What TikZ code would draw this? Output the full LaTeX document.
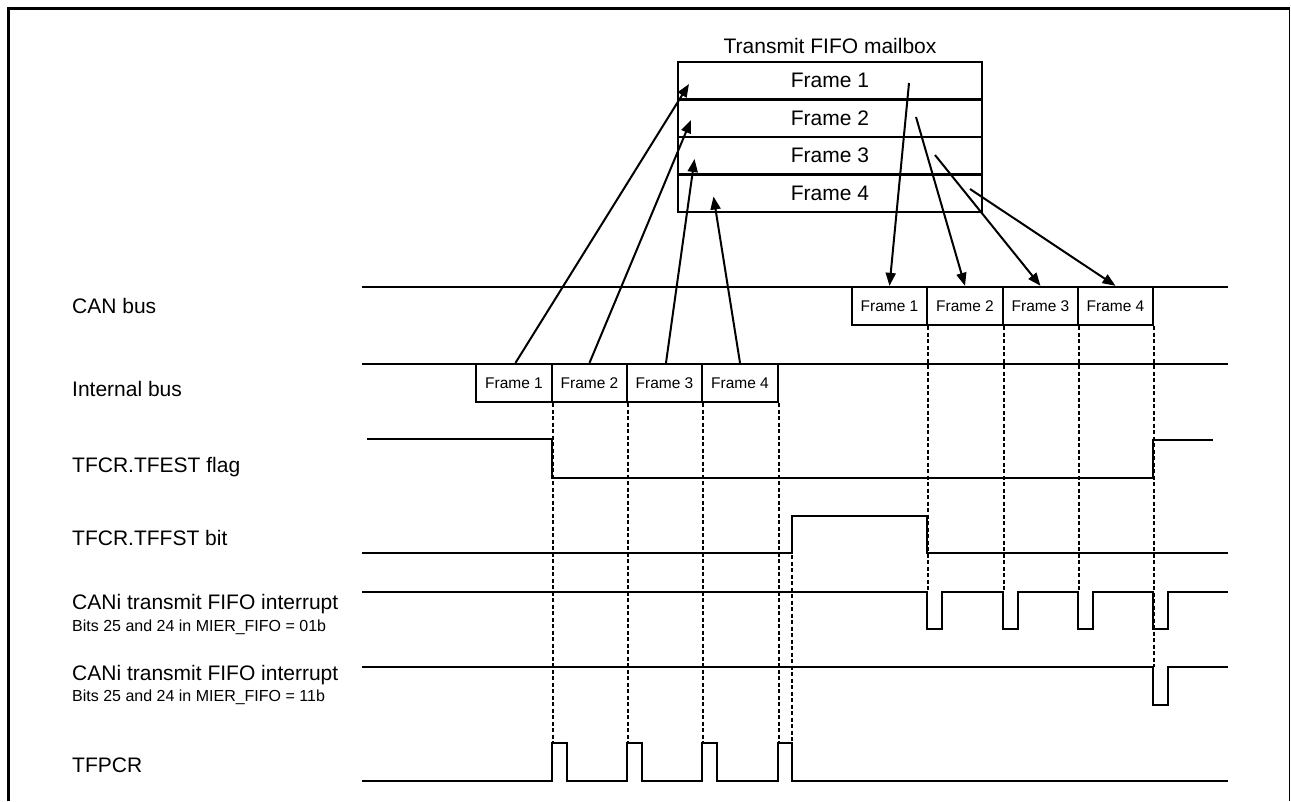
\documentclass[tikz,border=0pt]{standalone}
\usepackage{fontspec}
\setmainfont{Liberation Sans}
\usetikzlibrary{arrows.meta}
\tikzset{
  sig/.style={line width=2.3pt, line join=miter},
  dsh/.style={line width=1.4pt, dash pattern=on 4pt off 2.5pt},
  mbx/.style={draw, line width=2.3pt, minimum width=303.4pt, minimum height=37.5pt, inner sep=0pt, font=\fontsize{21}{25}\selectfont},
  fbx/.style={draw, line width=2.3pt, minimum height=38pt, inner sep=0pt, font=\fontsize{15.5}{18}\selectfont},
  arr/.style={line width=2pt, -{Triangle[length=13pt,width=10pt]}},
  lbl/.style={anchor=base west, inner sep=0pt, font=\fontsize{21}{25}\selectfont},
  sml/.style={anchor=base west, inner sep=0pt, font=\fontsize{16}{19}\selectfont},
}
\begin{document}
\begin{tikzpicture}[x=1pt,y=-1pt]
\useasboundingbox (0,0) rectangle (1291,801);
% border
\draw[line width=3pt] (8.3,801) -- (8.3,8.3) -- (1290,8.3);
\draw[line width=1.2pt] (1289.5,8.3) -- (1289.5,801);

% mailbox
\node[anchor=base, inner sep=0pt, font=\fontsize{21}{25}\selectfont] (title) at (830,53) {Transmit FIFO mailbox};
\node[mbx] (m1) at (830,80.75) {Frame 1};
\node[mbx] (m2) at (830,118.25) {Frame 2};
\node[mbx] (m3) at (830,155.75) {Frame 3};
\node[mbx] (m4) at (830,193.25) {Frame 4};

% bus lines
\draw[sig] (362,287) -- (1228,287);
\draw[sig] (362,364) -- (1228,364);

% CAN bus frames
\node[fbx, fill=white, minimum width=75pt] (c1) at (889.5,306) {Frame 1};
\node[fbx, fill=white, minimum width=76pt] (c2) at (965,306) {Frame 2};
\node[fbx, fill=white, minimum width=75pt] (c3) at (1040.5,306) {Frame 3};
\node[fbx, fill=white, minimum width=75pt] (c4) at (1115.5,306) {Frame 4};

% internal bus frames
\node[fbx, fill=white, minimum width=76pt] (i1) at (514,383) {Frame 1};
\node[fbx, fill=white, minimum width=75pt] (i2) at (589.5,383) {Frame 2};
\node[fbx, fill=white, minimum width=75pt] (i3) at (664.5,383) {Frame 3};
\node[fbx, fill=white, minimum width=76pt] (i4) at (740,383) {Frame 4};

% arrow end points inside the mailbox
\coordinate (t1) at (689,84);
\coordinate (t2) at (691,120);
\coordinate (t3) at (694.5,159);
\coordinate (t4) at (713.5,196.5);
\coordinate (s1) at (909,83);
\coordinate (s2) at (916,117);
\coordinate (s3) at (935,155);
\coordinate (s4) at (970,189);

\draw[arr] (i1.north) ++(1.5,0) coordinate (a1) (a1) -- (t1);
\draw[arr] (i2.north) -- (t2);
\draw[arr] (i3.north) ++(1.5,0) coordinate (a3) (a3) -- (t3);
\draw[arr] (i4.north) -- (t4);
\draw[arr] (s1) -- (c1.north);
\draw[arr] (s2) -- (c2.north);
\draw[arr] (s3) -- (c3.north);
\draw[arr] (s4) -- (c4.north);

% signals
\draw[sig] (367,439) -- (552,439) -- (552,478) -- (1153,478) -- (1153,440) -- (1213,440);
\draw[sig] (362,553) -- (792,553) -- (792,516) -- (927,516) -- (927,553) -- (1228,553);
\draw[sig] (362,592) -- (927,592) -- (927,629) -- (942,629) -- (942,592)
  -- (1003,592) -- (1003,629) -- (1018,629) -- (1018,592)
  -- (1078,592) -- (1078,629) -- (1093,629) -- (1093,592)
  -- (1153,592) -- (1153,629) -- (1168,629) -- (1168,592) -- (1228,592);
\draw[sig] (362,667) -- (1153,667) -- (1153,705) -- (1168,705) -- (1168,667) -- (1228,667);
\draw[sig] (362,781) -- (552,781) -- (552,743) -- (567,743) -- (567,781)
  -- (627,781) -- (627,743) -- (642,743) -- (642,781)
  -- (702,781) -- (702,743) -- (717,743) -- (717,781)
  -- (778,781) -- (778,743) -- (792,743) -- (792,781) -- (1228,781);

% dashed guides
\draw[dsh] (i1.south east) -- (i1.south east |- 0,743);
\draw[dsh] (i2.south east) -- (i2.south east |- 0,743);
\draw[dsh] (i3.south east) -- (i3.south east |- 0,743);
\draw[dsh] (i4.south east) -- (i4.south east |- 0,743);
\draw[dsh] (792,516) -- (792,743);
\draw[dsh] (c1.south east) -- (c1.south east |- 0,592);
\draw[dsh] (c2.south east) -- (c2.south east |- 0,592);
\draw[dsh] (c3.south east) -- (c3.south east |- 0,592);
\draw[dsh] (c4.south east) -- (c4.south east |- 0,667);

% labels
\node[lbl] (lcan) at (72,313) {CAN bus};
\node[lbl] (lint) at (72,396) {Internal bus};
\node[lbl] (lfest) at (72,472) {TFCR.TFEST flag};
\node[lbl] (lffst) at (72,545) {TFCR.TFFST bit};
\node[lbl] (lint1) at (72,609) {CANi transmit FIFO interrupt};
\node[sml] (lint1s) at (72,631) {Bits 25 and 24 in MIER\_FIFO = 01b};
\node[lbl] (lint2) at (72,680) {CANi transmit FIFO interrupt};
\node[sml] (lint2s) at (72,701) {Bits 25 and 24 in MIER\_FIFO = 11b};
\node[lbl] (ltfpcr) at (72,772) {TFPCR};
\end{tikzpicture}
\end{document}
